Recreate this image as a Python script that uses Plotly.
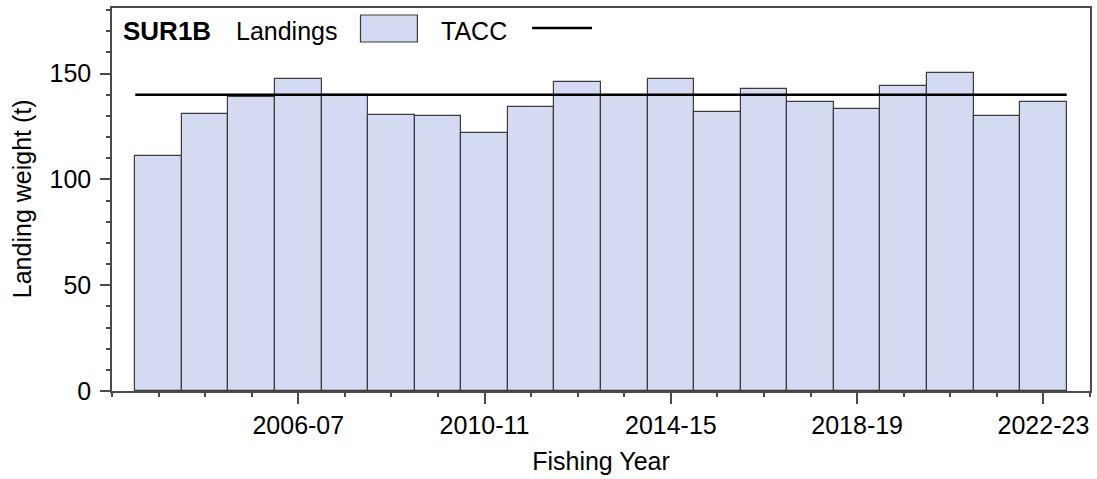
import plotly.graph_objects as go

# Fishing years (start year of each season) and landings in tonnes
years = [2003, 2004, 2005, 2006, 2007, 2008, 2009, 2010, 2011, 2012,
         2013, 2014, 2015, 2016, 2017, 2018, 2019, 2020, 2021, 2022]
landings = [111, 131, 139, 147.5, 140, 130.3, 129.8, 122, 134, 146,
            139.6, 147.5, 131.7, 142.6, 136.6, 133.5, 144, 150.5, 130, 136.6]
tacc = [140] * len(years)

tick_years = [2006, 2010, 2014, 2018, 2022]
tick_labels = ["2006-07", "2010-11", "2014-15", "2018-19", "2022-23"]
stock_code = "SUR1B"
y_title = "Landing weight (t)"
x_title = "Fishing Year"

FONT = "Liberation Sans, Arial, sans-serif"
AXIS_COL = "#4a4a4a"
BAR_FILL = "#D3DAF2"
BAR_EDGE = "#3c3c3c"

W, H = 1097, 479
L, R, T, B = 112, 5, 8, 88
pw, ph = W - L - R, H - T - B


def px(x):
    return (x - L) / pw


def py(y):
    return (H - B - y) / ph


fig = go.Figure()

fig.add_trace(go.Bar(
    x=years, y=landings, width=1.0,
    marker=dict(color=BAR_FILL, line=dict(color=BAR_EDGE, width=1.2)),
    showlegend=False,
))

# TACC drawn as a step line across the full width of the bars
step_x = [y - 0.5 for y in years] + [years[-1] + 0.5]
step_y = tacc + [tacc[-1]]
fig.add_trace(go.Scatter(
    x=step_x, y=step_y, mode="lines", line_shape="hv",
    line=dict(color="black", width=2.5), showlegend=False,
))

# Legend row: stock code, labels with swatches to the right
ann_font = dict(family=FONT, size=25, color="black")
fig.add_annotation(text="<b>%s</b>" % stock_code, x=px(121), y=py(31),
                   xref="paper", yref="paper", xanchor="left", yanchor="middle",
                   showarrow=False, font=dict(family=FONT, size=26, color="black"))
fig.add_annotation(text="Landings", x=px(234), y=py(31),
                   xref="paper", yref="paper", xanchor="left", yanchor="middle",
                   showarrow=False, font=ann_font)
fig.add_annotation(text="TACC", x=px(440), y=py(31),
                   xref="paper", yref="paper", xanchor="left", yanchor="middle",
                   showarrow=False, font=ann_font)
fig.add_shape(type="rect", xref="paper", yref="paper",
              x0=px(361), x1=px(418), y0=py(42), y1=py(15),
              fillcolor=BAR_FILL, line=dict(color=BAR_EDGE, width=1.2))
fig.add_shape(type="line", xref="paper", yref="paper",
              x0=px(533), x1=px(593), y0=py(28), y1=py(28),
              line=dict(color="black", width=2.5))

# Vertical axis title placed alongside the tick labels
fig.add_annotation(text=y_title, textangle=-90, x=px(22), y=py(199),
                   xref="paper", yref="paper", xanchor="center", yanchor="middle",
                   showarrow=False, font=ann_font)

tick_font = dict(family=FONT, size=25, color="black")
title_font = dict(family=FONT, size=25, color="black")

fig.update_layout(
    width=W, height=H,
    margin=dict(l=L, r=R, t=T, b=B),
    paper_bgcolor="white", plot_bgcolor="white",
    bargap=0,
    xaxis=dict(
        range=[2002, 2023],
        tickvals=tick_years, ticktext=tick_labels,
        ticks="outside", ticklen=11, tickwidth=1.5, tickcolor=AXIS_COL,
        minor=dict(dtick=1, tick0=2002, ticks="outside", ticklen=4,
                   tickwidth=1.5, tickcolor=AXIS_COL),
        showline=True, linecolor=AXIS_COL, linewidth=1.5, mirror=True,
        showgrid=False, zeroline=False,
        tickfont=tick_font,
        title=dict(text=x_title, font=title_font, standoff=15),
    ),
    yaxis=dict(
        range=[0, 181],
        tick0=0, dtick=50,
        ticks="outside", ticklen=10, tickwidth=1.5, tickcolor=AXIS_COL,
        minor=dict(dtick=10, ticks="outside", ticklen=4,
                   tickwidth=1.5, tickcolor=AXIS_COL),
        showline=True, linecolor=AXIS_COL, linewidth=1.5, mirror=True,
        showgrid=False, zeroline=False,
        tickfont=tick_font, ticklabelstandoff=4,
    ),
)

fig.write_html("out.html")
